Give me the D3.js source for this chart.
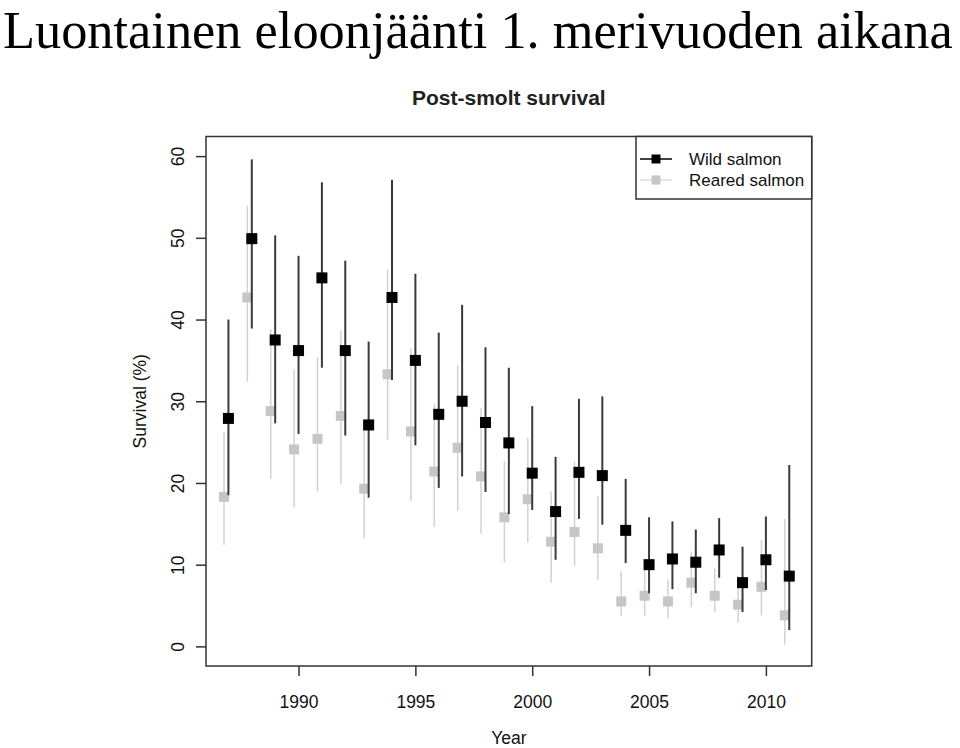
<!DOCTYPE html>
<html><head><meta charset="utf-8">
<script src="https://cdn.jsdelivr.net/npm/d3@7"></script>
<style>html,body{margin:0;padding:0;background:#fff;}svg{display:block;}</style>
</head><body>
<svg id="chart" width="960" height="748"></svg>
<script>
const years = [1987,1988,1989,1990,1991,1992,1993,1994,1995,1996,1997,1998,1999,2000,2001,2002,2003,2004,2005,2006,2007,2008,2009,2010,2011];
const wildMean = [27.9,49.9,37.5,36.2,45.1,36.2,27.1,42.7,35.0,28.4,30.0,27.4,24.9,21.2,16.5,21.3,20.9,14.2,10.0,10.7,10.3,11.8,7.8,10.6,8.6];
const wildLow  = [18.5,38.9,27.3,26.0,34.1,25.8,18.2,32.6,24.6,19.4,20.8,18.9,16.2,16.7,10.6,15.6,14.9,10.2,6.5,7.0,6.5,8.4,4.2,6.9,2.0];
const wildHigh = [40.0,59.6,50.3,47.8,56.8,47.2,37.3,57.1,45.6,38.4,41.8,36.6,34.1,29.4,23.2,30.3,30.6,20.5,15.8,15.3,14.3,15.7,12.2,15.9,22.2];
const rearedMean = [18.3,42.7,28.8,24.1,25.4,28.2,19.3,33.3,26.3,21.4,24.3,20.8,15.8,18.0,12.8,14.0,12.0,5.5,6.2,5.5,7.8,6.2,5.1,7.3,3.8];
const rearedLow  = [12.4,32.4,20.5,17.0,19.0,19.9,13.2,25.3,17.8,14.6,16.6,13.8,10.3,12.7,7.8,9.8,8.1,3.7,3.7,3.4,4.8,4.2,2.9,3.8,0.2];
const rearedHigh = [26.2,53.9,38.8,33.9,35.4,38.7,26.7,46.1,36.5,29.7,34.4,29.2,22.7,25.5,19.0,22.6,18.4,9.2,9.5,8.2,11.6,9.5,8.6,13.0,15.6];
const xTicks = [1990,1995,2000,2005,2010];
const yTicks = [0,10,20,30,40,50,60];
const seriesNames = ["Wild salmon","Reared salmon"];

const svg = d3.select("#chart");
const L = 206, R = 811.7, T = 136.5, B = 666;
const x = d3.scaleLinear().domain([1986.04, 2011.96]).range([L, R]);
const y = d3.scaleLinear().domain([-2.4, 62.4]).range([B, T]);
const sans = "Liberation Sans, Arial, sans-serif";

// Main title (serif), fitted to the width and kept inside the top edge
const title = svg.append("text").attr("x", 3).attr("y", 40)
  .attr("font-family", "Liberation Serif, Times New Roman, serif")
  .attr("font-size", 48).attr("fill", "#000")
  .text("Luontainen eloonjäänti 1. merivuoden aikana");
const tw = title.node().getComputedTextLength();
title.attr("font-size", 48 * 950 / tw);
const bb = title.node().getBBox();
if (bb.y < 1) title.attr("y", 40 + (1 - bb.y));

// Plot title
svg.append("text").attr("x", (L + R) / 2).attr("y", 105)
  .attr("text-anchor", "middle").attr("font-family", sans)
  .attr("font-weight", "bold").attr("font-size", 21).attr("fill", "#222")
  .text("Post-smolt survival");

// Reared series
const off = 0.19;
const rg = svg.append("g");
rg.selectAll("line").data(years).join("line")
  .attr("x1", (d) => x(d - off)).attr("x2", (d) => x(d - off))
  .attr("y1", (d, i) => y(rearedLow[i])).attr("y2", (d, i) => y(rearedHigh[i]))
  .attr("stroke", "#d2d2d2").attr("stroke-width", 1.5);
rg.selectAll("rect").data(years).join("rect")
  .attr("x", (d) => x(d - off) - 5).attr("y", (d, i) => y(rearedMean[i]) - 5)
  .attr("width", 10).attr("height", 10).attr("fill", "#c6c6c6");

// Wild series
const wg = svg.append("g");
wg.selectAll("line").data(years).join("line")
  .attr("x1", (d) => x(d)).attr("x2", (d) => x(d))
  .attr("y1", (d, i) => y(wildLow[i])).attr("y2", (d, i) => y(wildHigh[i]))
  .attr("stroke", "#3a3a3a").attr("stroke-width", 2);
wg.selectAll("rect").data(years).join("rect")
  .attr("x", (d) => x(d) - 5.5).attr("y", (d, i) => y(wildMean[i]) - 5.5)
  .attr("width", 11).attr("height", 11).attr("fill", "#000");

// Box
svg.append("rect").attr("x", L).attr("y", T).attr("width", R - L).attr("height", B - T)
  .attr("fill", "none").attr("stroke", "#333").attr("stroke-width", 1.5);

// X axis
const xAxis = d3.axisBottom(x).tickValues(xTicks).tickFormat(d3.format("d")).tickSize(10).tickPadding(20);
const xg = svg.append("g").attr("transform", `translate(0,${B})`).call(xAxis);
xg.select(".domain").remove();
xg.selectAll("line").attr("stroke", "#333").attr("stroke-width", 1.5);
xg.selectAll("text").attr("font-family", sans).attr("font-size", 17.5).attr("fill", "#111");

// Y axis
const yAxis = d3.axisLeft(y).tickValues(yTicks).tickSize(10).tickPadding(0).tickFormat(d3.format("d"));
const yg = svg.append("g").attr("transform", `translate(${L},0)`).call(yAxis);
yg.select(".domain").remove();
yg.selectAll("line").attr("stroke", "#333").attr("stroke-width", 1.5);
yg.selectAll("text").attr("font-family", sans).attr("font-size", 17.5).attr("fill", "#111")
  .attr("x", null).attr("dy", null)
  .attr("text-anchor", "middle")
  .attr("transform", "translate(-22,0) rotate(-90)");

// Axis labels
svg.append("text").attr("x", (L + R) / 2).attr("y", 743.5).attr("text-anchor", "middle")
  .attr("font-family", sans).attr("font-size", 17.5).attr("fill", "#111").text("Year");
svg.append("text").attr("transform", `translate(146,${(T + B) / 2}) rotate(-90)`)
  .attr("text-anchor", "middle").attr("font-family", sans).attr("font-size", 17.5).attr("fill", "#111")
  .text("Survival (%)");

// Legend
const lg = svg.append("g");
lg.append("rect").attr("x", 636).attr("y", T).attr("width", R - 636).attr("height", 199 - T)
  .attr("fill", "#fff").attr("stroke", "#333").attr("stroke-width", 1.5);
const legColors = [{line: "#000", pt: "#000"}, {line: "#dcdcdc", pt: "#c6c6c6"}];
seriesNames.forEach((name, i) => {
  const yy = 159 + i * 21;
  lg.append("line").attr("x1", 640).attr("x2", 672).attr("y1", yy).attr("y2", yy)
    .attr("stroke", legColors[i].line).attr("stroke-width", 1.5);
  lg.append("rect").attr("x", 656 - 4.5).attr("y", yy - 4.5).attr("width", 9).attr("height", 9)
    .attr("fill", legColors[i].pt);
  lg.append("text").attr("x", 689).attr("y", yy + 6).attr("font-family", sans)
    .attr("font-size", 17).attr("fill", "#111").text(name);
});
</script>
</body></html>
